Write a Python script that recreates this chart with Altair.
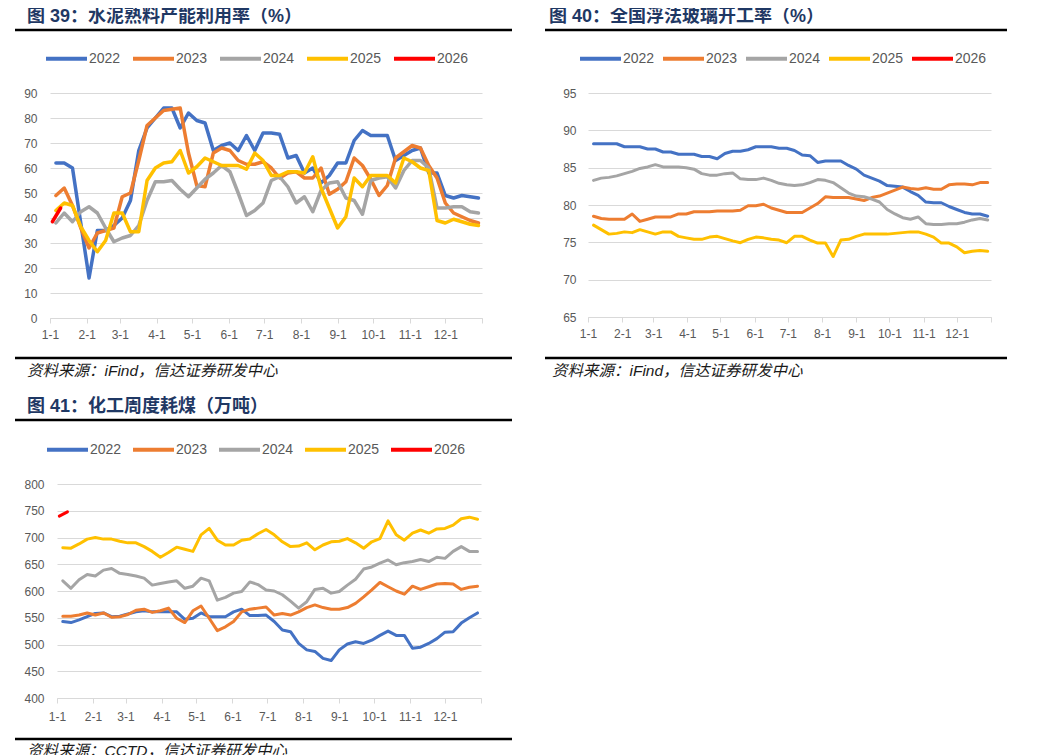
import altair as alt
import pandas as pd

years = ['2022', '2023', '2024', '2025', '2026']
colors = ['#4472C4', '#ED7D31', '#A5A5A5', '#FFC000', '#FF0000']

month_starts = [0, 31, 59, 90, 120, 151, 181, 212, 243, 273, 304, 334, 365]
month_labels = ['1-1', '2-1', '3-1', '4-1', '5-1', '6-1', '7-1', '8-1', '9-1',
                '10-1', '11-1', '12-1', '']

# day-of-year of each weekly observation
week_days = [5 + 7 * i for i in range(52)]
days_2026 = [2, 9]

# ---- 图39 水泥熟料产能利用率 (%)
cement_2022 = [62, 62, 60, 38, 16, 35, 35, 37, 40, 47, 67, 76, 80, 84, 84, 76, 82, 79, 78, 67, 69, 70, 67, 73, 67, 74,
               74, 73.5, 64, 65, 58, 60, 54, 57, 62, 62, 71, 75, 73, 73, 73, 63, 65, 67, 68, 58, 58, 49, 48, 49, 48.5, 48]
cement_2023 = [49, 52, 45, 36, 28, 34, 35, 36, 48.5, 50, 63, 77, 80, 83, 83.5, 84, 66, 53, 52.5, 66, 68, 67, 63, 61.5, 61.5, 62.5,
               60, 56, 58, 58.5, 56, 56, 60, 49.5, 51.5, 54.5, 64, 61, 55.5, 49, 53, 64, 66.5, 69, 68, 61, 56, 46, 42, 40.5, 39, 38]
cement_2024 = [38, 42, 38.5, 42.5, 44.5, 42, 36, 30.5, 32, 33, 37, 47, 54.5, 54.5, 55, 51.5, 48.5, 52, 55.5, 58, 61, 58.5, 50, 41, 43, 46,
               55, 56.5, 52.5, 46, 48.5, 42.5, 51, 54, 54.5, 48, 47, 41.5, 55, 56, 56.5, 52, 59, 63, 63, 60, 44, 44, 44.5, 44.5, 42.5, 42]
cement_2025 = [43, 46, 45, 36.5, 31, 26.5, 31, 42, 42, 34.5, 34.5, 55, 60, 62, 62.5, 67, 58, 60.5, 64, 62.5, 61, 61, 61, 59.5, 66, 63,
               57, 57, 58.5, 58.5, 58, 64.5, 52, 44, 36, 40.5, 56, 52.5, 57, 57, 57, 54, 64, 62.5, 60, 59, 39, 38, 39.5, 38.5, 37.5, 37]
cement_2026 = [38.5, 44]

# ---- 图40 全国浮法玻璃开工率 (%)
glass_2022 = [88.2, 88.2, 88.2, 88.2, 87.8, 87.8, 87.8, 87.5, 87.5, 87.1, 87.1, 86.8, 86.8, 86.8, 86.5, 86.5, 86.2, 86.9,
              87.2, 87.2, 87.4, 87.8, 87.8, 87.8, 87.6, 87.6, 87.3,
              86.7, 86.6, 85.7, 85.9, 85.9, 85.9, 85.3, 84.8, 84.0, 83.6, 83.2, 82.6, 82.5, 82.4, 81.8, 81.3, 80.4, 80.3,
              80.3, 79.8, 79.4, 79.0, 78.8, 78.8, 78.5]
glass_2023 = [78.5, 78.2, 78.1, 78.1, 78.1, 78.8, 77.8, 78.1, 78.4, 78.4, 78.4, 78.8, 78.8, 79.1, 79.1, 79.1, 79.2, 79.2,
              79.2, 79.3, 79.9, 79.9, 80.1, 79.6, 79.3, 79.0, 79.0,
              79.0, 79.6, 80.2, 81.1, 81.0, 81.0, 81.0, 80.8, 80.6, 81.0, 81.2, 81.6, 82.0, 82.4, 82.2, 82.1, 82.3, 82.1,
              82.1, 82.7, 82.8, 82.8, 82.7, 83.0, 83.0]
glass_2024 = [83.3, 83.6, 83.7, 83.9, 84.2, 84.5, 84.9, 85.1, 85.4, 85.1, 85.1, 85.1, 85.0, 84.8, 84.2, 84.0, 84.0, 84.2,
              84.3, 83.5, 83.4, 83.4, 83.6, 83.3, 82.9, 82.7, 82.6,
              82.7, 83.0, 83.4, 83.3, 83.0, 82.3, 81.6, 81.2, 81.1, 80.8, 80.4, 79.4, 78.8, 78.3, 78.1, 78.4, 77.5, 77.4,
              77.4, 77.5, 77.5, 77.7, 78.0, 78.2, 78.0]
glass_2025 = [77.3, 76.7, 76.1, 76.2, 76.4, 76.3, 76.7, 76.4, 76.1, 76.4, 76.4, 75.8, 75.6, 75.4, 75.4, 75.7, 75.8, 75.5,
              75.2, 74.95, 75.4, 75.7, 75.6, 75.4, 75.3, 74.95, 75.8,
              75.8, 75.3, 74.9, 74.9, 73.1, 75.3, 75.4, 75.8, 76.1, 76.1, 76.1, 76.1, 76.2, 76.3, 76.4, 76.4, 76.1, 75.7,
              74.9, 74.9, 74.4, 73.6, 73.8, 73.9, 73.8]

# ---- 图41 化工周度耗煤 (万吨)
coal_2022 = [543, 541, 546, 552, 558, 559, 552, 553, 557, 561, 563, 561, 561, 561, 561, 547, 549, 559, 552, 552, 552, 561, 566, 554, 554, 555,
             543, 527, 524, 502, 490, 487, 474, 470, 490, 501, 505, 502, 508, 517, 525, 517, 517, 493, 495, 502, 511, 523, 524, 540, 550, 559]
coal_2023 = [553, 553, 555, 559, 555, 559, 551, 552, 556, 564, 566, 560, 563, 568, 549, 541, 563, 572, 549, 526, 533, 543, 561, 566, 568, 570,
             555, 558, 555, 561, 569, 574, 569, 566, 566, 569, 577, 589, 602, 616, 608, 600, 594, 609, 603, 608, 613, 614, 613, 603, 607, 609]
coal_2024 = [619, 605, 621, 631, 628, 639, 642, 633, 631, 628, 624, 611, 614, 617, 619, 605, 609, 624, 619, 583, 588, 596, 599, 617, 612, 602,
             600, 593, 581, 568, 580, 603, 605, 596, 599, 611, 622, 641, 645, 652, 658, 649, 653, 655, 659, 655, 663, 661, 674, 683, 674, 674]
coal_2025 = [681, 680, 688, 697, 700, 697, 697, 693, 690, 690, 683, 674, 663, 672, 682, 678, 674, 705, 717, 695, 686, 686, 695, 697, 707, 715,
             705, 692, 683, 684, 690, 677, 686, 692, 693, 698, 690, 680, 692, 698, 731, 705, 695, 708, 714, 708, 716, 717, 723, 735, 738, 734]
coal_2026 = [740, 748]

titles = ['图 39：水泥熟料产能利用率（%）', '图 40：全国浮法玻璃开工率（%）', '图 41：化工周度耗煤（万吨）']
sources = ['资料来源：iFind，信达证券研发中心', '资料来源：iFind，信达证券研发中心', '资料来源：CCTD，信达证券研发中心']

LATIN = 'Liberation Sans, Noto Sans CJK SC'
GRID = '#D9D9D9'
LABEL = '#595959'

label_expr = ("[" + ",".join("'%s'" % l for l in month_labels) + "][indexof(["
              + ",".join(str(d) for d in month_starts) + "], datum.value)]")


def long_df(series):
    rows = []
    for yr, days, vals in series:
        for d, v in zip(days, vals):
            rows.append({'year': yr, 'day': d, 'value': v})
    return pd.DataFrame(rows)


one = pd.DataFrame({'a': [0]})


def panel(df, ydom, yvals, w, h, lw, g):
    xscale = alt.Scale(domain=[0, 365], nice=False, zero=False)
    if 'xrange' in g:
        xscale = alt.Scale(domain=[0, 365], nice=False, zero=False, range=g['xrange'])
    lines = alt.Chart(df).mark_line(strokeWidth=lw, strokeJoin='round', strokeCap='round').encode(
        x=alt.X('day:Q', scale=xscale,
                axis=alt.Axis(values=month_starts, labelExpr=label_expr, title=None, grid=False,
                              domain=True, domainColor=GRID, domainWidth=1, ticks=True, tickColor=GRID,
                              tickSize=5, labelPadding=g['xpad'], labelFontSize=12, labelColor=LABEL,
                              labelFont=LATIN, labelFlush=False, labelOverlap=False, labelBound=False)),
        y=alt.Y('value:Q', scale=alt.Scale(domain=ydom, nice=False, zero=False),
                axis=alt.Axis(values=yvals, title=None, grid=True, gridColor=GRID, gridWidth=1,
                              ticks=False, domain=False, labelPadding=g['ypad'], labelFontSize=12,
                              labelColor=LABEL, labelFont=LATIN)),
        color=alt.Color('year:N', scale=alt.Scale(domain=years, range=colors),
                        legend=alt.Legend(title=None, orient='none', legendX=g['lx'], legendY=g['ly'],
                                          direction='horizontal', columns=5, symbolType='stroke',
                                          symbolSize=1681, symbolStrokeWidth=4, labelFontSize=14,
                                          labelColor=LABEL, labelFont=LATIN, labelOffset=0,
                                          columnPadding=g['cp'], padding=0)),
        order=alt.Order('day:Q')
    )
    bg = alt.Chart(one).mark_rect(opacity=0).encode(
        x=alt.value(g['rect'][0]), x2=alt.value(g['rect'][1]),
        y=alt.value(g['rect'][2]), y2=alt.value(g['rect'][3]))
    rule_top = alt.Chart(one).mark_rule(color='black', strokeWidth=2.5).encode(
        x=alt.value(g['rx'][0]), x2=alt.value(g['rx'][1]), y=alt.value(g['rt']))
    rule_bot = alt.Chart(one).mark_rule(color='black', strokeWidth=2.5).encode(
        x=alt.value(g['rx'][0]), x2=alt.value(g['rx'][1]), y=alt.value(g['rb']))
    title = alt.Chart(one).mark_text(text=g['title'], align='left', baseline='middle', font=LATIN,
                                     fontSize=18, fontWeight='bold', color='#1F3864').encode(
        x=alt.value(g['tx']), y=alt.value(g['ty']))
    source = alt.Chart(one).mark_text(text=g['source'], align='left', baseline='middle', font=LATIN,
                                      fontSize=15.5, fontStyle='italic', color='#1A1A1A').encode(
        x=alt.value(g['sx']), y=alt.value(g['sy']))
    return alt.layer(bg, lines, rule_top, rule_bot, title, source).properties(width=w, height=h)


df1 = long_df([('2022', week_days, cement_2022), ('2023', week_days, cement_2023),
               ('2024', week_days, cement_2024), ('2025', week_days, cement_2025),
               ('2026', days_2026, cement_2026)])
df2 = long_df([('2022', week_days, glass_2022), ('2023', week_days, glass_2023),
               ('2024', week_days, glass_2024), ('2025', week_days, glass_2025)])
df3 = long_df([('2022', week_days, coal_2022), ('2023', week_days, coal_2023),
               ('2024', week_days, coal_2024), ('2025', week_days, coal_2025),
               ('2026', days_2026, coal_2026)])

g1 = dict(rect=(-42, 478, -85, 293), rx=(-35, 462), rt=-63, rb=265, tx=-23, ty=-76,
          sx=-23, sy=278, lx=-6, ly=-57, cp=4, xpad=6, ypad=13, title=titles[0], source=sources[0])
g2 = dict(rect=(-60, 424, -85, 293), rx=(-43, 419), rt=-63, rb=265, tx=-39, ty=-76,
          sx=-36, sy=278, lx=-10, ly=-57, cp=0, xpad=6, ypad=12, title=titles[1], source=sources[1])
g3 = dict(rect=(-42, 467, -98, 278), rx=(-35, 462), rt=-64, rb=255, tx=-23, ty=-77,
          sx=-23, sy=267, lx=-5, ly=-57, cp=3, xpad=8, ypad=6, xrange=[7, 431],
          title=titles[2], source=sources[2])

p1 = panel(df1, [0, 90], list(range(0, 91, 10)), 432, 225, 3.5, g1)
p2 = panel(df2, [65, 95], list(range(65, 96, 5)), 403, 224, 3, g2)
p3 = panel(df3, [400, 800], list(range(400, 801, 50)), 431, 214, 3, g3)

row1 = alt.hconcat(p1, p2, spacing=0).resolve_scale(color='independent')
chart = alt.vconcat(row1, p3, spacing=0).resolve_scale(color='independent').properties(
    padding=0, background='white'
).configure_view(strokeWidth=0)

chart.save('out.html', embed_options={'renderer': 'svg', 'actions': False})
